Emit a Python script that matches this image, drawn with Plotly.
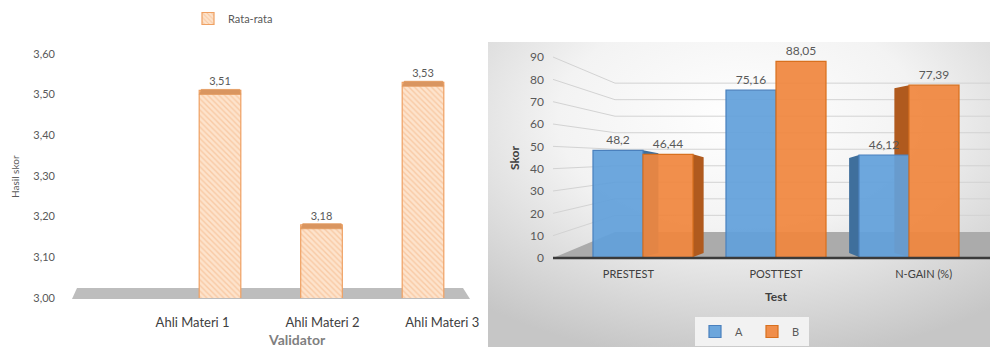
import base64
import plotly.graph_objects as go

# ---------------- data ----------------
validators = ["Ahli Materi 1", "Ahli Materi 2", "Ahli Materi 3"]
rata_rata = [3.51, 3.18, 3.53]
left_ticks = [3.00, 3.10, 3.20, 3.30, 3.40, 3.50, 3.60]

tests = ["PRESTEST", "POSTTEST", "N-GAIN (%)"]
skor_a = [48.2, 75.16, 46.12]
skor_b = [46.44, 88.05, 77.39]
right_ticks = [0, 10, 20, 30, 40, 50, 60, 70, 80, 90]

# ---------------- geometry helpers (pixels -> paper) ----------------
W, H = 990, 347


def px(x):
    return x / W


def py(y):
    return 1 - y / H


def fmt(v):
    return str(v).replace(".", ",")


# left panel mapping
L_c0, L_step = 220, 101.5
L_left, L_right = 62, 478
L_y0, L_ytop, L_pp = 298, 40, 407.0
L_barw = 0.41
left_label_shift = [-0.27, 0.01, 0.19]

# right panel mapping
R_c0, R_step = 643, 133
R_left, R_right = 553, 990
R_y0, R_ytop, R_pp = 258, 45, 2.233
BARGAP = 0.248
right_label_shift = [-0.11, 0.0, 0.11]

fig = go.Figure()

# ---- left chart ----
fig.add_trace(go.Bar(
    x=list(range(len(validators))), y=rata_rata, name="Rata-rata",
    width=L_barw, showlegend=True,
    marker=dict(color="#fcdcbf",
                line=dict(color="#efa062", width=1.2),
                pattern=dict(shape="\\", fgcolor="#f3b07c", bgcolor="#fde3cc", size=4, solidity=0.35)),
    text=[f"{v:.2f}".replace(".", ",") for v in rata_rata], textposition="outside",
    textfont=dict(size=11, color="#595959"), cliponaxis=False,
    xaxis="x", yaxis="y", legend="legend",
))

# ---- right chart ----
fig.add_trace(go.Bar(
    x=list(range(len(tests))), y=skor_a, name="A", showlegend=True,
    marker=dict(color="rgba(98,160,218,0.93)", line=dict(color="#4a80bd", width=1.2)),
    text=[fmt(v) for v in skor_a], textposition="outside",
    textfont=dict(size=12, color="#595959"), cliponaxis=False,
    xaxis="x3", yaxis="y3", legend="legend2", offsetgroup="A",
))
fig.add_trace(go.Bar(
    x=list(range(len(tests))), y=skor_b, name="B", showlegend=True,
    marker=dict(color="rgba(240,134,62,0.93)", line=dict(color="#d8701e", width=1.2)),
    text=[fmt(v) for v in skor_b], textposition="outside",
    textfont=dict(size=12, color="#595959"), cliponaxis=False,
    xaxis="x3", yaxis="y3", legend="legend2", offsetgroup="B",
))

# background gradient for right panel
svg = ('<svg xmlns="http://www.w3.org/2000/svg" width="500" height="305" viewBox="0 0 500 305">'
       '<defs><radialGradient id="g" cx="50%" cy="25%" r="80%">'
       '<stop offset="0" stop-color="#ffffff"/><stop offset="0.45" stop-color="#f3f3f3"/>'
       '<stop offset="1" stop-color="#c6c6c6"/></radialGradient></defs>'
       '<rect width="500" height="305" fill="url(#g)"/></svg>')
src = "data:image/svg+xml;base64," + base64.b64encode(svg.encode()).decode()

shapes = []
# left floor
shapes.append(dict(type="path", xref="paper", yref="paper", layer="below",
                   path=f"M {px(72)},{py(299)} L {px(77)},{py(288)} L {px(463)},{py(288)} L {px(470)},{py(299)} Z",
                   fillcolor="#bdbdbd", line=dict(width=0)))
# left bars: darker top face (derived from data)
for i, v in enumerate(rata_rata):
    ytop = L_y0 - (v - 3.0) * L_pp
    xl = L_c0 + L_step * (i - L_barw / 2)
    xr = L_c0 + L_step * (i + L_barw / 2)
    shapes.append(dict(type="path", xref="paper", yref="paper", layer="above",
                       path=f"M {px(xl)},{py(ytop + 4)} L {px(xl + 2)},{py(ytop - 1)} L {px(xr - 1)},{py(ytop - 1)} L {px(xr)},{py(ytop + 4)} Z",
                       fillcolor="#d99560", line=dict(color="#e39a5e", width=0.8)))

# right perspective gridlines
for v in right_ticks[1:]:
    vb = 11.7 + 0.74 * v
    yf = py(R_y0 - R_pp * v)
    yb = py(R_y0 - R_pp * vb)
    shapes.append(dict(type="path", xref="paper", yref="paper", layer="below",
                       path=f"M {px(R_left)},{yf} L {px(615)},{yb} L {px(990)},{yb}",
                       line=dict(color="#d3d3d3", width=1)))
# right floor
shapes.append(dict(type="path", xref="paper", yref="paper", layer="below",
                   path=f"M {px(615)},{py(232)} L {px(990)},{py(232)} L {px(990)},{py(258)} L {px(553)},{py(258)} Z",
                   fillcolor="#ababab", line=dict(width=0)))

# right bars: side faces (derived from data, perspective toward the centre)
bar_px = R_step * (1 - BARGAP) / 2
VP, K = 780, 0.095
for vals, sgn, col in ((skor_a, -1, "#3f6f9c"), (skor_b, 1, "#b05a1e")):
    for i, v in enumerate(vals):
        cx = R_c0 + R_step * i + sgn * bar_px / 2
        off = -(cx - VP) * K
        if abs(off) < 5:
            continue
        xf = cx + bar_px / 2 if off > 0 else cx - bar_px / 2
        xb = xf + off
        yt = R_y0 - R_pp * v
        shapes.append(dict(type="path", xref="paper", yref="paper", layer="below",
                           path=(f"M {px(xf)},{py(R_y0 - 1)} L {px(xf)},{py(yt)} "
                                 f"L {px(xb)},{py(yt + 3)} L {px(xb)},{py(R_y0 - 5)} Z"),
                           fillcolor=col, line=dict(width=0)))

# right axis line
shapes.append(dict(type="line", xref="paper", yref="paper", layer="above",
                   x0=px(553), x1=px(990), y0=py(258), y1=py(258),
                   line=dict(color="#3a3a3a", width=2.5)))

annotations = [
    dict(text="Hasil skor", x=px(15), y=py(177), xref="paper", yref="paper", textangle=-90,
         xanchor="center", yanchor="middle",
         showarrow=False, font=dict(size=10, color="#595959")),
    dict(text="<b>Validator</b>", x=px(297), y=py(339), xref="paper", yref="paper",
         xanchor="center", yanchor="middle",
         showarrow=False, font=dict(size=14, color="#7f7f7f")),
    dict(text="<b>Skor</b>", x=px(514), y=py(158), xref="paper", yref="paper", textangle=-90,
         xanchor="center", yanchor="middle",
         showarrow=False, font=dict(size=12, color="#404040")),
    dict(text="<b>Test</b>", x=px(776), y=py(296), xref="paper", yref="paper",
         xanchor="center", yanchor="middle",
         showarrow=False, font=dict(size=12, color="#404040")),
]

font_family = "Lato, 'Open Sans', sans-serif"

fig.update_layout(
    width=W, height=H, margin=dict(l=0, r=0, t=0, b=0, autoexpand=False), autosize=False,
    paper_bgcolor="white", plot_bgcolor="rgba(0,0,0,0)", showlegend=True,
    separators=",.", barmode="group", bargap=BARGAP, bargroupgap=0,
    font=dict(family=font_family, color="#595959"),
    images=[dict(source=src, xref="paper", yref="paper", x=px(488), y=py(42),
                 sizex=px(990) - px(488), sizey=py(42) - py(347), sizing="stretch",
                 layer="below", xanchor="left", yanchor="top")],
    shapes=shapes, annotations=annotations,
    xaxis=dict(domain=[px(L_left), px(L_right)],
               range=[(L_left - L_c0) / L_step, (L_right - L_c0) / L_step],
               tickmode="array",
               tickvals=[i + s for i, s in enumerate(left_label_shift)],
               ticktext=validators, showgrid=False, zeroline=False, showline=False,
               ticks="", ticklabelstandoff=15, tickfont=dict(size=13, color="#404040"),
               automargin=False),
    yaxis=dict(domain=[py(L_y0), py(L_ytop)],
               range=[3.0, 3.0 + (L_y0 - L_ytop) / L_pp],
               tickmode="array", tickvals=left_ticks, tickformat=".2f",
               showgrid=False, zeroline=False, showline=False, ticks="",
               ticklabelstandoff=6, tickfont=dict(size=11, color="#595959"),
               automargin=False),
    xaxis3=dict(domain=[px(R_left), px(R_right)],
                range=[(R_left - R_c0) / R_step, (R_right - R_c0) / R_step],
                tickmode="array",
                tickvals=[i + s for i, s in enumerate(right_label_shift)],
                ticktext=tests, showgrid=False, zeroline=False, showline=False,
                ticks="", ticklabelstandoff=8, tickfont=dict(size=11, color="#404040"),
                anchor="y3", automargin=False),
    yaxis3=dict(domain=[py(R_y0), py(R_ytop)],
                range=[0, (R_y0 - R_ytop) / R_pp],
                tickmode="array", tickvals=right_ticks,
                showgrid=False, zeroline=False, showline=False, ticks="",
                ticklabelstandoff=8, tickfont=dict(size=12, color="#595959"),
                anchor="x3", automargin=False),
    legend=dict(x=px(188), y=py(4), xanchor="left", yanchor="top", orientation="h",
                font=dict(size=11, color="#595959"), bgcolor="rgba(0,0,0,0)"),
    legend2=dict(x=px(752), y=py(346), xanchor="center", yanchor="bottom", orientation="h",
                 font=dict(size=11, color="#595959"), bgcolor="#f2f2f2",
                 itemwidth=30, entrywidth=12, entrywidthmode="pixels"),
)

fig.write_html("out.html")
